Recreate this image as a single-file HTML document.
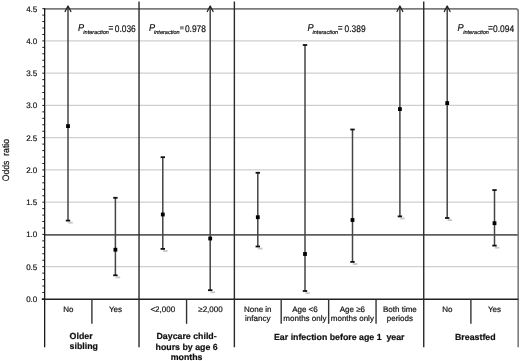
<!DOCTYPE html>
<html><head><meta charset="utf-8"><style>
html,body{margin:0;padding:0;background:#fff;}
body{width:520px;height:361px;overflow:hidden;}
svg{display:block;font-family:"Liberation Sans", sans-serif;fill:#111;will-change:transform;text-rendering:geometricPrecision;}
text{stroke:#111;stroke-width:0.2px;}
</style></head><body>
<svg width="520" height="361" viewBox="0 0 520 361">
<defs><filter id="sh" x="-50%" y="-100%" width="200%" height="300%"><feGaussianBlur stdDeviation="0.7"/></filter></defs>
<line x1="45.5" x2="517.5" y1="266.67" y2="266.67" stroke="#cfcfcf" stroke-width="1.1"/>
<line x1="45.5" x2="517.5" y1="202.17" y2="202.17" stroke="#cfcfcf" stroke-width="1.1"/>
<line x1="45.5" x2="517.5" y1="169.92" y2="169.92" stroke="#cfcfcf" stroke-width="1.1"/>
<line x1="45.5" x2="517.5" y1="137.67" y2="137.67" stroke="#cfcfcf" stroke-width="1.1"/>
<line x1="45.5" x2="517.5" y1="105.42" y2="105.42" stroke="#cfcfcf" stroke-width="1.1"/>
<line x1="45.5" x2="517.5" y1="73.17" y2="73.17" stroke="#cfcfcf" stroke-width="1.1"/>
<line x1="45.5" x2="517.5" y1="40.92" y2="40.92" stroke="#cfcfcf" stroke-width="1.1"/>
<line x1="44" x2="518" y1="234.85" y2="234.85" stroke="#5e5e5e" stroke-width="1.7"/>
<path d="M44 8.9 H515.7 Q518.2 8.9 518.2 11.4 V347.3" fill="none" stroke="#7c7c7c" stroke-width="1.6"/>
<line x1="44.65" x2="44.65" y1="8.3" y2="347.3" stroke="#1a1a1a" stroke-width="1.3"/>
<line x1="41.8" x2="518.2" y1="299.3" y2="299.3" stroke="#222" stroke-width="1.6"/>
<line x1="42.3" x2="44.65" y1="298.92" y2="298.92" stroke="#1a1a1a" stroke-width="1"/>
<line x1="42.3" x2="44.65" y1="292.47" y2="292.47" stroke="#1a1a1a" stroke-width="1"/>
<line x1="42.3" x2="44.65" y1="286.02" y2="286.02" stroke="#1a1a1a" stroke-width="1"/>
<line x1="42.3" x2="44.65" y1="279.57" y2="279.57" stroke="#1a1a1a" stroke-width="1"/>
<line x1="42.3" x2="44.65" y1="273.12" y2="273.12" stroke="#1a1a1a" stroke-width="1"/>
<line x1="42.3" x2="44.65" y1="266.67" y2="266.67" stroke="#1a1a1a" stroke-width="1"/>
<line x1="42.3" x2="44.65" y1="260.22" y2="260.22" stroke="#1a1a1a" stroke-width="1"/>
<line x1="42.3" x2="44.65" y1="253.77" y2="253.77" stroke="#1a1a1a" stroke-width="1"/>
<line x1="42.3" x2="44.65" y1="247.32" y2="247.32" stroke="#1a1a1a" stroke-width="1"/>
<line x1="42.3" x2="44.65" y1="240.87" y2="240.87" stroke="#1a1a1a" stroke-width="1"/>
<line x1="42.3" x2="44.65" y1="234.42" y2="234.42" stroke="#1a1a1a" stroke-width="1"/>
<line x1="42.3" x2="44.65" y1="227.97" y2="227.97" stroke="#1a1a1a" stroke-width="1"/>
<line x1="42.3" x2="44.65" y1="221.52" y2="221.52" stroke="#1a1a1a" stroke-width="1"/>
<line x1="42.3" x2="44.65" y1="215.07" y2="215.07" stroke="#1a1a1a" stroke-width="1"/>
<line x1="42.3" x2="44.65" y1="208.62" y2="208.62" stroke="#1a1a1a" stroke-width="1"/>
<line x1="42.3" x2="44.65" y1="202.17" y2="202.17" stroke="#1a1a1a" stroke-width="1"/>
<line x1="42.3" x2="44.65" y1="195.72" y2="195.72" stroke="#1a1a1a" stroke-width="1"/>
<line x1="42.3" x2="44.65" y1="189.27" y2="189.27" stroke="#1a1a1a" stroke-width="1"/>
<line x1="42.3" x2="44.65" y1="182.82" y2="182.82" stroke="#1a1a1a" stroke-width="1"/>
<line x1="42.3" x2="44.65" y1="176.37" y2="176.37" stroke="#1a1a1a" stroke-width="1"/>
<line x1="42.3" x2="44.65" y1="169.92" y2="169.92" stroke="#1a1a1a" stroke-width="1"/>
<line x1="42.3" x2="44.65" y1="163.47" y2="163.47" stroke="#1a1a1a" stroke-width="1"/>
<line x1="42.3" x2="44.65" y1="157.02" y2="157.02" stroke="#1a1a1a" stroke-width="1"/>
<line x1="42.3" x2="44.65" y1="150.57" y2="150.57" stroke="#1a1a1a" stroke-width="1"/>
<line x1="42.3" x2="44.65" y1="144.12" y2="144.12" stroke="#1a1a1a" stroke-width="1"/>
<line x1="42.3" x2="44.65" y1="137.67" y2="137.67" stroke="#1a1a1a" stroke-width="1"/>
<line x1="42.3" x2="44.65" y1="131.22" y2="131.22" stroke="#1a1a1a" stroke-width="1"/>
<line x1="42.3" x2="44.65" y1="124.77" y2="124.77" stroke="#1a1a1a" stroke-width="1"/>
<line x1="42.3" x2="44.65" y1="118.32" y2="118.32" stroke="#1a1a1a" stroke-width="1"/>
<line x1="42.3" x2="44.65" y1="111.87" y2="111.87" stroke="#1a1a1a" stroke-width="1"/>
<line x1="42.3" x2="44.65" y1="105.42" y2="105.42" stroke="#1a1a1a" stroke-width="1"/>
<line x1="42.3" x2="44.65" y1="98.97" y2="98.97" stroke="#1a1a1a" stroke-width="1"/>
<line x1="42.3" x2="44.65" y1="92.52" y2="92.52" stroke="#1a1a1a" stroke-width="1"/>
<line x1="42.3" x2="44.65" y1="86.07" y2="86.07" stroke="#1a1a1a" stroke-width="1"/>
<line x1="42.3" x2="44.65" y1="79.62" y2="79.62" stroke="#1a1a1a" stroke-width="1"/>
<line x1="42.3" x2="44.65" y1="73.17" y2="73.17" stroke="#1a1a1a" stroke-width="1"/>
<line x1="42.3" x2="44.65" y1="66.72" y2="66.72" stroke="#1a1a1a" stroke-width="1"/>
<line x1="42.3" x2="44.65" y1="60.27" y2="60.27" stroke="#1a1a1a" stroke-width="1"/>
<line x1="42.3" x2="44.65" y1="53.82" y2="53.82" stroke="#1a1a1a" stroke-width="1"/>
<line x1="42.3" x2="44.65" y1="47.37" y2="47.37" stroke="#1a1a1a" stroke-width="1"/>
<line x1="42.3" x2="44.65" y1="40.92" y2="40.92" stroke="#1a1a1a" stroke-width="1"/>
<line x1="42.3" x2="44.65" y1="34.47" y2="34.47" stroke="#1a1a1a" stroke-width="1"/>
<line x1="42.3" x2="44.65" y1="28.02" y2="28.02" stroke="#1a1a1a" stroke-width="1"/>
<line x1="42.3" x2="44.65" y1="21.57" y2="21.57" stroke="#1a1a1a" stroke-width="1"/>
<line x1="42.3" x2="44.65" y1="15.12" y2="15.12" stroke="#1a1a1a" stroke-width="1"/>
<line x1="42.3" x2="44.65" y1="8.67" y2="8.67" stroke="#1a1a1a" stroke-width="1"/>
<line x1="139.03" x2="139.03" y1="1.4" y2="347.3" stroke="#2a2a2a" stroke-width="1.4"/>
<line x1="234.37" x2="234.37" y1="1.4" y2="347.3" stroke="#2a2a2a" stroke-width="1.4"/>
<line x1="423.73" x2="423.73" y1="1.4" y2="347.3" stroke="#2a2a2a" stroke-width="1.4"/>
<line x1="91.90" x2="91.90" y1="299.3" y2="323.8" stroke="#333" stroke-width="1.4"/>
<line x1="186.57" x2="186.57" y1="299.3" y2="323.8" stroke="#333" stroke-width="1.4"/>
<line x1="281.20" x2="281.20" y1="299.3" y2="323.8" stroke="#333" stroke-width="1.4"/>
<line x1="328.65" x2="328.65" y1="299.3" y2="323.8" stroke="#333" stroke-width="1.4"/>
<line x1="376.05" x2="376.05" y1="299.3" y2="323.8" stroke="#333" stroke-width="1.4"/>
<line x1="470.90" x2="470.90" y1="299.3" y2="323.8" stroke="#333" stroke-width="1.4"/>
<line x1="68.00" x2="68.00" y1="6.50" y2="220.60" stroke="#444" stroke-width="1.5"/>
<rect x="68.30" y="221.80" width="4.5" height="1.8" fill="#c8c8c8" filter="url(#sh)"/>
<line x1="65.80" x2="70.20" y1="220.60" y2="220.60" stroke="#111" stroke-width="1.8"/>
<path d="M65.10 11.5 L68.00 6.0 L70.90 11.5" fill="none" stroke="#222" stroke-width="1.3" stroke-linejoin="round" stroke-linecap="round"/>
<rect x="66.10" y="124.20" width="3.8" height="3.8" fill="#000"/>
<line x1="115.40" x2="115.40" y1="197.80" y2="275.30" stroke="#444" stroke-width="1.5"/>
<rect x="115.70" y="276.50" width="4.5" height="1.8" fill="#c8c8c8" filter="url(#sh)"/>
<line x1="113.20" x2="117.60" y1="275.30" y2="275.30" stroke="#111" stroke-width="1.8"/>
<line x1="113.20" x2="117.60" y1="197.80" y2="197.80" stroke="#111" stroke-width="1.8"/>
<rect x="113.50" y="247.80" width="3.8" height="3.8" fill="#000"/>
<line x1="162.80" x2="162.80" y1="157.20" y2="248.90" stroke="#444" stroke-width="1.5"/>
<rect x="163.10" y="250.10" width="4.5" height="1.8" fill="#c8c8c8" filter="url(#sh)"/>
<line x1="160.60" x2="165.00" y1="248.90" y2="248.90" stroke="#111" stroke-width="1.8"/>
<line x1="160.60" x2="165.00" y1="157.20" y2="157.20" stroke="#111" stroke-width="1.8"/>
<rect x="160.90" y="212.60" width="3.8" height="3.8" fill="#000"/>
<line x1="210.20" x2="210.20" y1="6.50" y2="290.20" stroke="#444" stroke-width="1.5"/>
<rect x="210.50" y="291.40" width="4.5" height="1.8" fill="#c8c8c8" filter="url(#sh)"/>
<line x1="208.00" x2="212.40" y1="290.20" y2="290.20" stroke="#111" stroke-width="1.8"/>
<path d="M207.30 11.5 L210.20 6.0 L213.10 11.5" fill="none" stroke="#222" stroke-width="1.3" stroke-linejoin="round" stroke-linecap="round"/>
<rect x="208.30" y="236.60" width="3.8" height="3.8" fill="#000"/>
<line x1="257.80" x2="257.80" y1="172.80" y2="246.50" stroke="#444" stroke-width="1.5"/>
<rect x="258.10" y="247.70" width="4.5" height="1.8" fill="#c8c8c8" filter="url(#sh)"/>
<line x1="255.60" x2="260.00" y1="246.50" y2="246.50" stroke="#111" stroke-width="1.8"/>
<line x1="255.60" x2="260.00" y1="172.80" y2="172.80" stroke="#111" stroke-width="1.8"/>
<rect x="255.90" y="215.30" width="3.8" height="3.8" fill="#000"/>
<line x1="305.00" x2="305.00" y1="45.00" y2="291.00" stroke="#444" stroke-width="1.5"/>
<rect x="305.30" y="292.20" width="4.5" height="1.8" fill="#c8c8c8" filter="url(#sh)"/>
<line x1="302.80" x2="307.20" y1="291.00" y2="291.00" stroke="#111" stroke-width="1.8"/>
<line x1="302.80" x2="307.20" y1="45.00" y2="45.00" stroke="#111" stroke-width="1.8"/>
<rect x="303.10" y="252.10" width="3.8" height="3.8" fill="#000"/>
<line x1="352.50" x2="352.50" y1="129.50" y2="261.90" stroke="#444" stroke-width="1.5"/>
<rect x="352.80" y="263.10" width="4.5" height="1.8" fill="#c8c8c8" filter="url(#sh)"/>
<line x1="350.30" x2="354.70" y1="261.90" y2="261.90" stroke="#111" stroke-width="1.8"/>
<line x1="350.30" x2="354.70" y1="129.50" y2="129.50" stroke="#111" stroke-width="1.8"/>
<rect x="350.60" y="218.10" width="3.8" height="3.8" fill="#000"/>
<line x1="399.90" x2="399.90" y1="6.50" y2="216.40" stroke="#444" stroke-width="1.5"/>
<rect x="400.20" y="217.60" width="4.5" height="1.8" fill="#c8c8c8" filter="url(#sh)"/>
<line x1="397.70" x2="402.10" y1="216.40" y2="216.40" stroke="#111" stroke-width="1.8"/>
<path d="M397.00 11.5 L399.90 6.0 L402.80 11.5" fill="none" stroke="#222" stroke-width="1.3" stroke-linejoin="round" stroke-linecap="round"/>
<rect x="398.00" y="107.20" width="3.8" height="3.8" fill="#000"/>
<line x1="447.20" x2="447.20" y1="6.50" y2="218.00" stroke="#444" stroke-width="1.5"/>
<rect x="447.50" y="219.20" width="4.5" height="1.8" fill="#c8c8c8" filter="url(#sh)"/>
<line x1="445.00" x2="449.40" y1="218.00" y2="218.00" stroke="#111" stroke-width="1.8"/>
<path d="M444.30 11.5 L447.20 6.0 L450.10 11.5" fill="none" stroke="#222" stroke-width="1.3" stroke-linejoin="round" stroke-linecap="round"/>
<rect x="445.30" y="101.20" width="3.8" height="3.8" fill="#000"/>
<line x1="494.50" x2="494.50" y1="190.10" y2="245.60" stroke="#444" stroke-width="1.5"/>
<rect x="494.80" y="246.80" width="4.5" height="1.8" fill="#c8c8c8" filter="url(#sh)"/>
<line x1="492.30" x2="496.70" y1="245.60" y2="245.60" stroke="#111" stroke-width="1.8"/>
<line x1="492.30" x2="496.70" y1="190.10" y2="190.10" stroke="#111" stroke-width="1.8"/>
<rect x="492.60" y="221.30" width="3.8" height="3.8" fill="#000"/>
<text x="37.3" y="301.77" text-anchor="end" font-size="8">0.0</text>
<text x="37.3" y="269.52" text-anchor="end" font-size="8">0.5</text>
<text x="37.3" y="237.27" text-anchor="end" font-size="8">1.0</text>
<text x="37.3" y="205.02" text-anchor="end" font-size="8">1.5</text>
<text x="37.3" y="172.77" text-anchor="end" font-size="8">2.0</text>
<text x="37.3" y="140.52" text-anchor="end" font-size="8">2.5</text>
<text x="37.3" y="108.27" text-anchor="end" font-size="8">3.0</text>
<text x="37.3" y="76.02" text-anchor="end" font-size="8">3.5</text>
<text x="37.3" y="43.77" text-anchor="end" font-size="8">4.0</text>
<text x="37.3" y="11.52" text-anchor="end" font-size="8">4.5</text>
<text transform="translate(8.8,160.1) rotate(-90) scale(0.91,1)" text-anchor="middle" font-size="9.5">Odds&#160; ratio</text>
<text transform="translate(77.9,31.3) scale(0.92,1)" font-size="10" font-style="italic">P</text>
<text transform="translate(83.35,33.9) scale(1.0,1)" font-size="5.55" font-style="italic">interaction</text>
<text transform="translate(108.5,31.1) scale(0.875,1)" font-size="9.6" >=</text>
<text transform="translate(114.75,31.6) scale(0.875,1)" font-size="9.6" >0.036</text>
<text transform="translate(149.0,31.3) scale(0.92,1)" font-size="10" font-style="italic">P</text>
<text transform="translate(154.05,33.9) scale(1.0,1)" font-size="5.55" font-style="italic">interaction</text>
<rect x="180" y="26.2" width="3.7" height="3.2" fill="#8c8c8c"/>
<text transform="translate(184.95,31.6) scale(0.875,1)" font-size="9.6" >0.978</text>
<text transform="translate(307.5,31.3) scale(0.92,1)" font-size="10" font-style="italic">P</text>
<text transform="translate(312.55,33.9) scale(1.0,1)" font-size="5.55" font-style="italic">interaction</text>
<text transform="translate(337.7,31.1) scale(0.875,1)" font-size="9.6" >=</text>
<text transform="translate(344.55,31.6) scale(0.875,1)" font-size="9.6" >0.389</text>
<text transform="translate(457.4,31.3) scale(0.92,1)" font-size="10" font-style="italic">P</text>
<text transform="translate(463.25,33.9) scale(1.0,1)" font-size="5.55" font-style="italic">interaction</text>
<text transform="translate(487.9,31.1) scale(0.875,1)" font-size="9.6" >=</text>
<text transform="translate(493.05,31.6) scale(0.875,1)" font-size="9.6" >0.094</text>
<text x="68.28" y="312.00" text-anchor="middle" font-size="8">No</text>
<text x="115.47" y="312.00" text-anchor="middle" font-size="8">Yes</text>
<text x="162.80" y="312.00" text-anchor="middle" font-size="8">&lt;2,000</text>
<text x="210.47" y="312.00" text-anchor="middle" font-size="8">≥2,000</text>
<text x="257.78" y="312.00" text-anchor="middle" font-size="8">None in</text>
<text x="257.78" y="320.60" text-anchor="middle" font-size="8">infancy</text>
<text x="304.92" y="312.00" text-anchor="middle" font-size="8">Age &lt;6</text>
<text x="304.92" y="320.60" text-anchor="middle" font-size="8">months only</text>
<text x="352.35" y="312.00" text-anchor="middle" font-size="8">Age ≥6</text>
<text x="352.35" y="320.60" text-anchor="middle" font-size="8">months only</text>
<text x="399.89" y="312.00" text-anchor="middle" font-size="8">Both time</text>
<text x="399.89" y="320.60" text-anchor="middle" font-size="8">periods</text>
<text x="447.31" y="312.00" text-anchor="middle" font-size="8">No</text>
<text x="494.55" y="312.00" text-anchor="middle" font-size="8">Yes</text>
<text x="69.6" y="338.9" text-anchor="start" font-size="8.8" font-weight="bold">Older</text>
<text x="69.6" y="348.6" text-anchor="start" font-size="8.8" font-weight="bold">sibling</text>
<text x="186.6" y="338.8" text-anchor="middle" font-size="8.8" font-weight="bold">Daycare child-</text>
<text x="186.6" y="349.7" text-anchor="middle" font-size="8.8" font-weight="bold">hours by age 6</text>
<text x="186.6" y="359.6" text-anchor="middle" font-size="8.8" font-weight="bold">months</text>
<text x="274" y="340.0" text-anchor="start" font-size="8.8" font-weight="bold">Ear infection before age 1&#160; year</text>
<text x="455" y="339.5" text-anchor="start" font-size="8.8" font-weight="bold">Breastfed</text>
</svg>
</body></html>
